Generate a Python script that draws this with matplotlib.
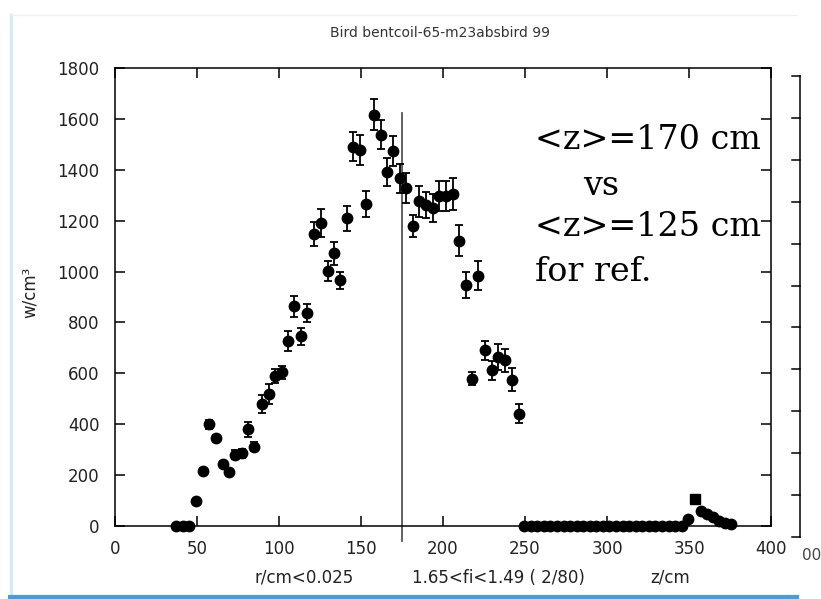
import matplotlib

matplotlib.use("Agg")

import matplotlib.pyplot as plt  # noqa: E402
from matplotlib.lines import Line2D  # noqa: E402

# --- data -------------------------------------------------------------------
z_cm = [37.4, 41.4, 45.4, 49.2, 53.8, 57.3, 61.6, 65.7, 69.7, 73.2, 77.2, 81.3, 84.8,
        89.8, 93.9, 97.6, 101.6, 105.7, 109.3, 113.2, 117.3, 121.2, 125.8,
        129.7, 133.7, 137.4, 141.5, 145.3, 149.4, 153.2, 157.9, 162.0, 165.8,
        169.7, 173.8, 177.6, 181.5, 185.6, 189.6, 193.7, 197.7, 201.8, 205.9,
        209.8, 213.8, 217.7, 221.3, 225.6, 230.0, 233.7, 237.8, 242.3, 246.3]
w_val = [0, 0, 0, 98, 217, 399, 344, 243, 211, 281, 285, 380, 311,
         481, 519, 590, 604, 727, 863, 745, 838, 1146, 1190,
         1001, 1071, 965, 1209, 1491, 1478, 1265, 1617, 1537, 1392,
         1472, 1366, 1328, 1178, 1276, 1262, 1249, 1298, 1298, 1305,
         1122, 948, 579, 984, 690, 612, 664, 651, 575, 442]
w_err = [0, 0, 0, 8, 12, 18, 12, 12, 10, 18, 18, 30, 18,
         35, 39, 28, 25, 40, 41, 34, 35, 47, 56,
         40, 47, 34, 50, 57, 60, 50, 60, 57, 54,
         59, 58, 58, 43, 60, 52, 56, 59, 59, 64,
         62, 52, 25, 57, 38, 38, 51, 46, 44, 39]

# empty bins between the two coils
z_empty = [249.5, 253.5, 257.5, 261.5, 265.5, 269.5, 273.5, 277.5, 281.5, 285.5,
           289.5, 293.5, 297.5, 301.5, 305.5, 309.5, 313.5, 317.5, 321.5, 325.5,
           329.5, 333.5, 337.5, 341.5, 345.5]
w_empty = [0] * len(z_empty)

# small tail near the far end
z_tail = [349.5, 357.5, 361.2, 364.8, 368.5, 372.0, 375.4]
w_tail = [26, 60, 47, 34, 21, 13, 8]
z_square = [353.7]
w_square = [105]

z_mean = 175
x_ticks = [0, 50, 100, 150, 200, 250, 300, 350, 400]
y_ticks = [0, 200, 400, 600, 800, 1000, 1200, 1400, 1600, 1800]

W, H = 821, 599
fig = plt.figure(figsize=(W / 100, H / 100), dpi=100)
fig.patch.set_facecolor("white")


def fx(px):
    return px / W


def fy(py):
    return 1 - py / H


# screenshot window frame
fig.add_artist(Line2D([fx(11), fx(11)], [fy(15), fy(597)], color="#d6eaf7", lw=2.5))
fig.add_artist(Line2D([fx(11), fx(797)], [fy(15), fy(15)], color="#f0f0f0", lw=1))
fig.add_artist(Line2D([fx(10), fx(797)], [fy(597), fy(597)], color="#4a9bd8", lw=3))

# the axis of the window behind (only its right edge peeks out)
top2, bot2, x2 = 76, 537, 800
fig.add_artist(Line2D([fx(x2), fx(x2)], [fy(top2), fy(bot2)], color="black", lw=1.1))
step = (bot2 - top2) / 11
for k in range(12):
    yy = top2 + k * step
    fig.add_artist(Line2D([fx(x2 - 8), fx(x2)], [fy(yy), fy(yy)], color="black", lw=1.1))
fig.text(fx(802), fy(556), "00", fontsize=11, color="#444444", ha="left", va="center")

ax = fig.add_axes((fx(115), fy(526), fx(771) - fx(115), fy(68) - fy(526)))
ax.set_xlim(0, 400)
ax.set_ylim(0, 1800)
ax.set_xticks(x_ticks)
ax.set_yticks(y_ticks)
for sp in ax.spines.values():
    sp.set_linewidth(1.1)
ax.tick_params(direction="in", top=True, right=True, length=7, width=1.1,
               labelsize=12, labelcolor="#222222")
ax.tick_params(axis="x", pad=10)
ax.tick_params(axis="y", pad=11)

mk = dict(color="black", clip_on=False, zorder=3)
ax.errorbar(z_cm, w_val, yerr=w_err, fmt="o", ms=7.5, elinewidth=1.3,
            capsize=3.0, capthick=1.3, **mk)
ax.plot(z_empty, w_empty, "o", ms=7.5, **mk)
ax.plot(z_tail, w_tail, "o", ms=7.5, **mk)
ax.plot(z_square, w_square, "s", ms=7, **mk)

ax.plot([z_mean, z_mean], [-60, 1625], color="#555555", lw=1.3, clip_on=False, zorder=2)

fig.text(fx(440), fy(33), "Bird bentcoil-65-m23absbird 99", fontsize=10,
         color="#333333", ha="center", va="center")
fig.text(fx(30), fy(292), "w/cm³", fontsize=12, color="#222222", rotation=90,
         ha="center", va="center")
fig.text(fx(255), fy(578), "r/cm<0.025", fontsize=12, color="#222222", va="center")
fig.text(fx(412), fy(578), "1.65<fi<1.49 ( 2/80)", fontsize=12, color="#222222", va="center")
fig.text(fx(650), fy(578), "z/cm", fontsize=12, color="#222222", va="center")

note = dict(fontsize=24, family="DejaVu Serif", color="black", va="center", ha="left")
fig.text(fx(535), fy(140), "<z>=170 cm", **note)
fig.text(fx(583), fy(186), "vs", **note)
fig.text(fx(535), fy(227), "<z>=125 cm", **note)
fig.text(fx(535), fy(272), "for ref.", **note)

fig.savefig("out.png", dpi=100)
